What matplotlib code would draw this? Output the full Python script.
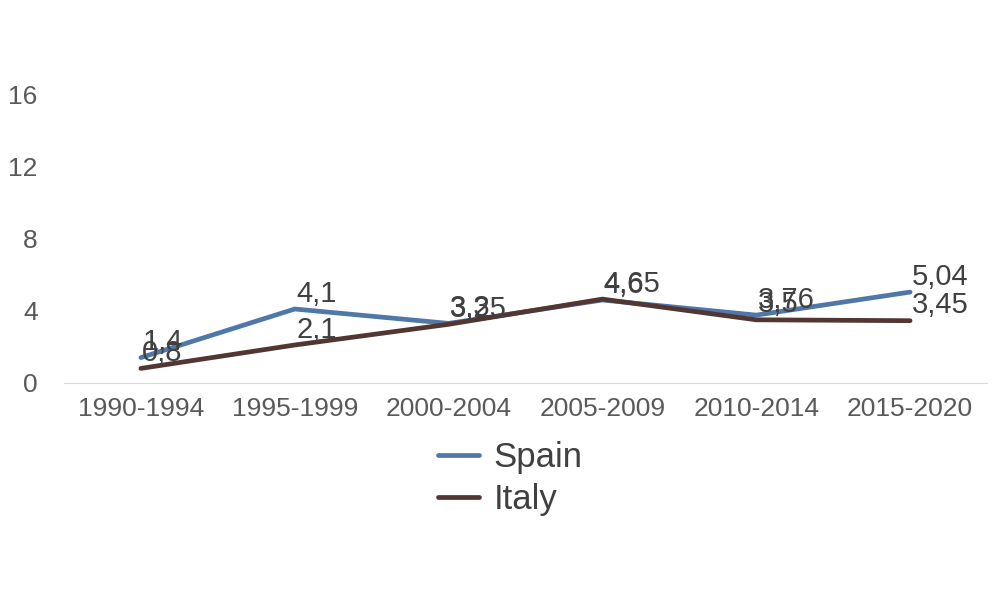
import matplotlib
matplotlib.use("Agg")
from matplotlib import pyplot as plt

periods = ["1990-1994", "1995-1999", "2000-2004", "2005-2009", "2010-2014", "2015-2020"]
spain = [1.4, 4.1, 3.3, 4.6, 3.76, 5.04]
italy = [0.8, 2.1, 3.25, 4.65, 3.5, 3.45]
y_ticks = [0, 4, 8, 12, 16]

plt.rcParams["font.family"] = ["Liberation Sans", "DejaVu Sans"]

fig = plt.figure(figsize=(10, 6), dpi=100)
ax = fig.add_axes([0.064, 0.362, 0.923, 0.600])

x = list(range(len(periods)))
series = [("Spain", spain, "#4f77a8"), ("Italy", italy, "#513632")]
for name, vals, color in series:
    ax.plot(x, vals, color=color, lw=3.4, label=name, solid_capstyle="round")

for name, vals, color in series:
    for xi, v in zip(x, vals):
        txt = ("%g" % v).replace(".", ",")
        ax.annotate(txt, (xi, v), xytext=(1, 1), textcoords="offset points",
                    ha="left", va="bottom", fontsize=21, color="#404040")

ax.set_xlim(-0.5, len(periods) - 0.5)
ax.set_ylim(0, 20)
ax.set_xticks(x)
ax.set_xticklabels(periods)
ax.set_yticks(y_ticks)
ax.tick_params(axis="both", length=0, labelsize=19, colors="#595959")
ax.tick_params(axis="y", pad=19)
ax.tick_params(axis="x", pad=10)
for side in ["top", "right", "left"]:
    ax.spines[side].set_visible(False)
ax.spines["bottom"].set_color("#d9d9d9")

fig.legend(loc="upper center", bbox_to_anchor=(0.51, 0.317), frameon=False,
           fontsize=25, handlelength=1.2, handletextpad=0.4, labelcolor="#404040",
           labelspacing=0.27)

fig.savefig("out.png", dpi=100)
